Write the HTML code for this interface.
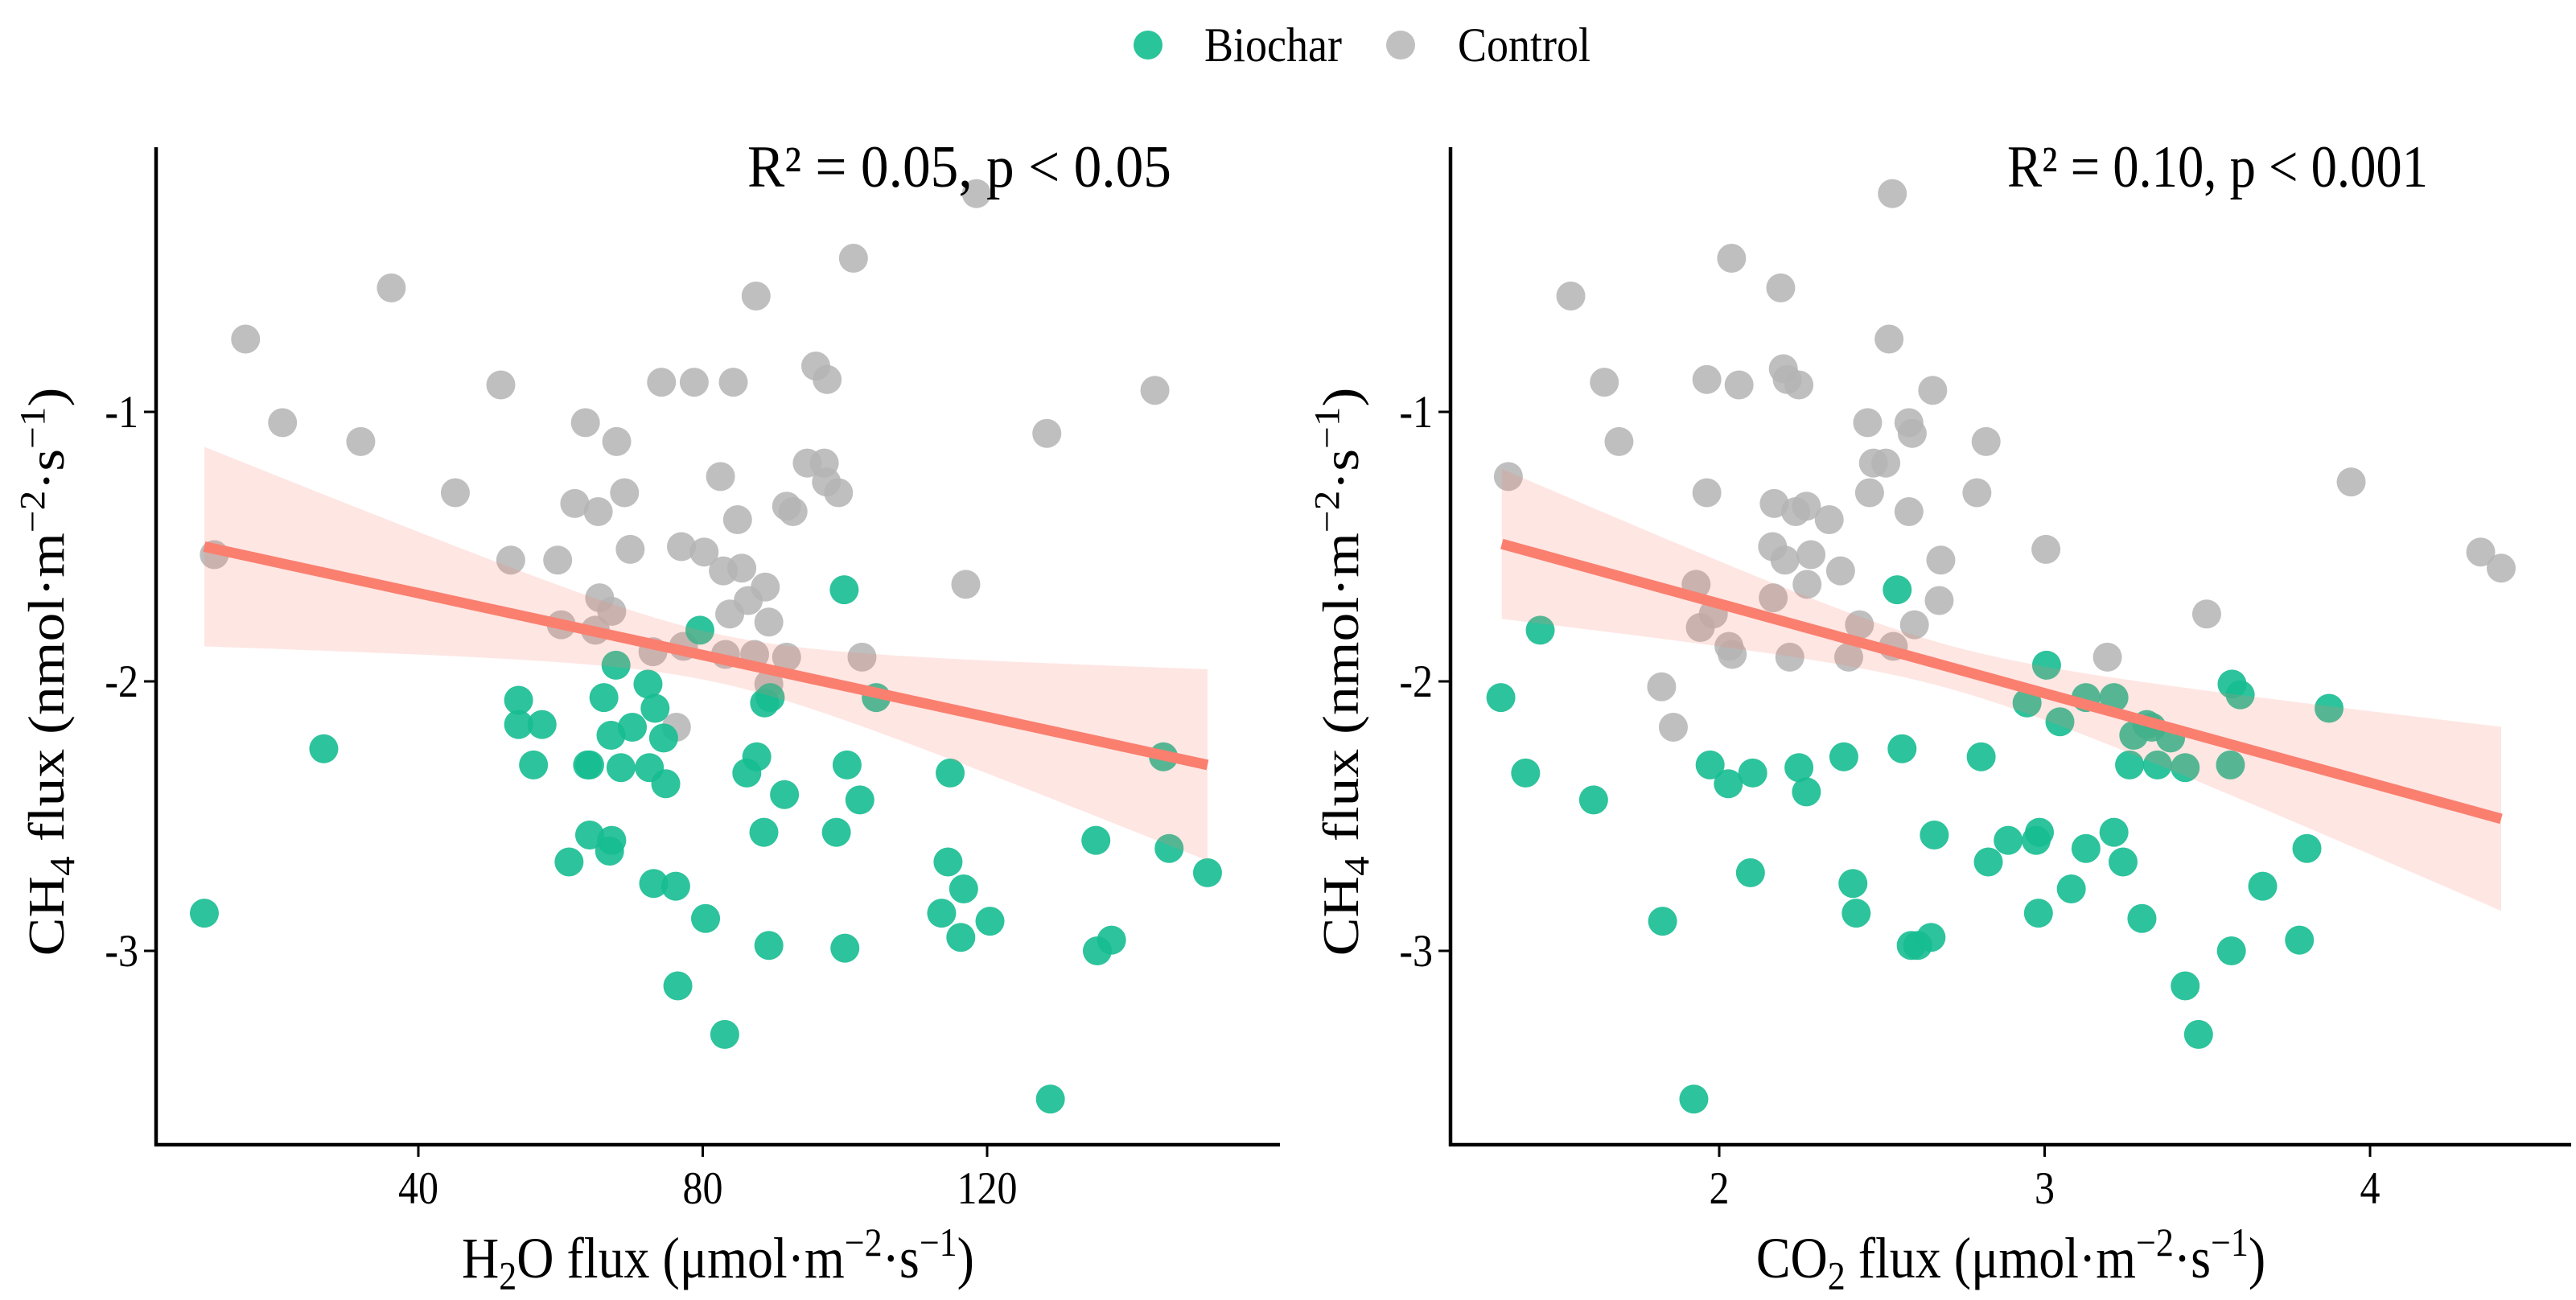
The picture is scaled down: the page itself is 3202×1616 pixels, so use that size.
<!DOCTYPE html>
<html><head><meta charset="utf-8">
<style>
html,body{margin:0;padding:0;background:#fff;}
svg{display:block;font-family:"Liberation Serif",serif;}
</style></head>
<body>
<svg id="chart" width="3202" height="1616" viewBox="0 0 3202 1616" xmlns="http://www.w3.org/2000/svg">
  <g id="legend">
    <g>
      <circle cx="1427" cy="56" r="18" fill="#2ac49a"/>
      <text x="0" y="0" transform="translate(1497,76) scale(1,1.12)" font-size="54">Biochar</text>
    </g>
    <g>
      <circle cx="1741" cy="56" r="18" fill="#c0c0c0"/>
      <text x="0" y="0" transform="translate(1812,76) scale(1,1.12)" font-size="54">Control</text>
    </g>
  </g>
  <g id="p1"></g>
  <g id="p2"></g>
</svg>
<script>
// ---------- Panel 1 data (H2O flux vs CH4 flux) ----------
const h2oControlX = [118.5,101.2,36.2,87.5,15.7,51.6,74.2,78.8,84.3,95.9,97.5,143.6,20.9,63.5,31.9,67.9,128.4,82.5,94.7,97.1,97.4,45.2,69.0,99.1,62.0,65.3,84.9,91.8,92.7,53.0,59.6,69.8,11.3,77.0,80.2,82.9,85.5,88.8,117.0,65.5,67.2,86.4,83.8,89.3,60.1,64.9,77.3,73.0,83.2,87.3,91.8,102.4,89.3,76.3];
const h2oControlY = [-0.19,-0.43,-0.54,-0.57,-0.73,-0.90,-0.89,-0.89,-0.89,-0.83,-0.88,-0.92,-1.04,-1.04,-1.11,-1.11,-1.08,-1.24,-1.19,-1.19,-1.26,-1.30,-1.30,-1.30,-1.34,-1.37,-1.40,-1.35,-1.37,-1.55,-1.55,-1.51,-1.53,-1.50,-1.52,-1.59,-1.58,-1.65,-1.64,-1.69,-1.74,-1.70,-1.75,-1.78,-1.79,-1.81,-1.87,-1.89,-1.90,-1.90,-1.91,-1.91,-2.01,-2.17];
const h2oBiocharX = [99.9,79.6,67.8,72.3,66.1,54.1,88.7,89.5,104.4,73.3,54.1,57.4,67.1,70.1,74.5,26.7,144.8,56.2,63.8,64.1,68.5,72.5,87.6,100.3,86.2,114.8,74.8,91.5,102.1,64.1,67.2,66.9,88.6,98.8,135.3,145.6,61.2,114.5,151.0,73.1,76.2,116.7,9.9,80.4,113.6,120.4,89.3,100.0,116.3,137.5,135.5,76.5,83.1,128.9];
const h2oBiocharY = [-1.66,-1.81,-1.94,-2.01,-2.06,-2.07,-2.08,-2.06,-2.06,-2.10,-2.16,-2.16,-2.20,-2.17,-2.21,-2.25,-2.28,-2.31,-2.31,-2.31,-2.32,-2.32,-2.28,-2.31,-2.34,-2.34,-2.38,-2.42,-2.44,-2.57,-2.59,-2.63,-2.56,-2.56,-2.59,-2.62,-2.67,-2.67,-2.71,-2.75,-2.76,-2.77,-2.86,-2.88,-2.86,-2.89,-2.98,-2.99,-2.95,-2.96,-3.00,-3.13,-3.31,-3.55];
const h2oTicksX = [40,80,120];
const h2oFitRange = [9.9,151.0];
const h2oFitEnds = [-1.50,-2.31];
const h2oBand = [82,0.09,0.0000248]; // centre, min half-width, curvature

// ---------- Panel 2 data (CO2 flux vs CH4 flux) ----------
const co2ControlX = [2.532,2.038,1.544,2.189,2.522,2.197,1.647,1.962,2.061,2.209,2.245,2.656,1.692,2.456,2.583,2.593,2.820,1.352,2.474,2.512,1.962,2.462,2.792,3.942,2.169,2.235,2.268,2.338,2.583,2.164,2.202,2.282,2.373,2.681,3.004,4.340,4.403,1.929,2.270,2.166,2.676,1.982,3.498,2.431,1.942,2.600,2.030,2.040,2.217,2.398,2.535,3.193,1.823,1.859];
const co2ControlY = [-0.19,-0.43,-0.57,-0.54,-0.73,-0.84,-0.89,-0.88,-0.90,-0.88,-0.90,-0.92,-1.11,-1.04,-1.04,-1.08,-1.11,-1.24,-1.19,-1.19,-1.30,-1.30,-1.30,-1.26,-1.34,-1.37,-1.35,-1.40,-1.37,-1.50,-1.55,-1.53,-1.59,-1.55,-1.51,-1.52,-1.58,-1.64,-1.64,-1.69,-1.70,-1.75,-1.75,-1.79,-1.80,-1.79,-1.87,-1.90,-1.91,-1.91,-1.87,-1.91,-2.02,-2.17];
const co2BiocharX = [2.547,1.450,3.006,3.576,1.329,2.946,3.127,3.213,3.601,3.874,3.047,3.314,3.329,3.274,3.387,2.562,2.383,2.805,1.405,1.972,2.103,2.245,2.028,2.268,3.261,3.347,3.432,3.571,1.614,2.661,2.888,2.984,2.974,3.213,3.127,3.806,2.827,3.241,2.096,2.411,3.082,3.670,1.826,2.421,2.981,3.299,2.590,2.610,2.651,3.574,3.783,3.432,3.473,1.922];
const co2BiocharY = [-1.66,-1.81,-1.94,-2.01,-2.06,-2.08,-2.06,-2.06,-2.05,-2.10,-2.15,-2.16,-2.17,-2.20,-2.21,-2.25,-2.28,-2.28,-2.34,-2.31,-2.34,-2.32,-2.38,-2.41,-2.31,-2.31,-2.32,-2.31,-2.44,-2.57,-2.59,-2.56,-2.59,-2.56,-2.62,-2.62,-2.67,-2.67,-2.71,-2.75,-2.77,-2.76,-2.89,-2.86,-2.86,-2.88,-2.98,-2.98,-2.95,-3.00,-2.96,-3.13,-3.31,-3.55];
const co2TicksX = [2,3,4];
const co2FitRange = [1.332,4.403];
const co2FitEnds = [-1.49,-2.51];
const co2Band = [2.7,0.08,0.038];

const yTicks = [-1,-2,-3];

const NS = "http://www.w3.org/2000/svg";
function mk(parent, tag, attrs){
  const e = document.createElementNS(NS, tag);
  for (const k in attrs) e.setAttribute(k, attrs[k]);
  parent.appendChild(e);
  return e;
}

function drawPanel(g, cfg){
  const yScale = v => 512 + (-1 - v) * 335;
  const xScale = v => cfg.x0px + (v - cfg.x0val) * cfg.pxPerUnit;
  const axL = cfg.axisX, axB = 1423, axT = 183, axR = cfg.axisR;

  const gc = mk(g, 'g', {});
  
  
  cfg.cx.forEach((v, i) => {
    const c = mk(gc, 'circle', {cx: xScale(v), cy: yScale(cfg.cy[i]), r: 18, fill: '#b4b4b4', 'fill-opacity': 0.85});
    
    
  });
  const gb = mk(g, 'g', {});
  
  
  cfg.bx.forEach((v, i) => {
    const c = mk(gb, 'circle', {cx: xScale(v), cy: yScale(cfg.by[i]), r: 18, fill: '#16bd91', 'fill-opacity': 0.9});
    
    
  });

  const [xa, xb] = cfg.fitRange, [ya, yb] = cfg.fitEnds;
  const fit = x => ya + (yb - ya) * (x - xa) / (xb - xa);
  const hw = x => Math.sqrt(cfg.band[1]*cfg.band[1] + cfg.band[2]*(x - cfg.band[0])*(x - cfg.band[0]));
  const N = 60; let up = [], lo = [];
  for (let i = 0; i <= N; i++){
    const x = xa + (xb - xa) * i / N;
    up.push(xScale(x).toFixed(1) + ',' + yScale(fit(x) + hw(x)).toFixed(1));
    lo.unshift(xScale(x).toFixed(1) + ',' + yScale(fit(x) - hw(x)).toFixed(1));
  }
  const band = mk(g, 'polygon', {points: up.concat(lo).join(' '), fill: '#fa8072', 'fill-opacity': 0.2});
  
  
  const line = mk(g, 'line', {x1: xScale(xa), y1: yScale(ya), x2: xScale(xb), y2: yScale(yb), stroke: '#fa7f6f', 'stroke-width': 13});
  
  

  const ya_ = mk(g, 'line', {x1: axL, y1: axT, x2: axL, y2: axB + 2, stroke: '#000', 'stroke-width': 4.5});
  
  
  const xa_ = mk(g, 'line', {x1: axL - 2, y1: axB, x2: axR, y2: axB, stroke: '#000', 'stroke-width': 4.5});
  
  

  yTicks.forEach(t => {
    const y = yScale(t);
    const tk = mk(g, 'line', {x1: axL - 15, y1: y, x2: axL, y2: y, stroke: '#000', 'stroke-width': 3});
    
    
    const tl = mk(g, 'text', {x: 0, y: 0, 'font-size': 50, 'text-anchor': 'end', transform: `translate(${axL - 22},${y + 19}) scale(1,1.15)`});
    tl.textContent = String(t);
    
    
  });
  cfg.ticks.forEach(t => {
    const x = xScale(t);
    const tk = mk(g, 'line', {x1: x, y1: axB, x2: x, y2: axB + 15, stroke: '#000', 'stroke-width': 3});
    
    
    const tl = mk(g, 'text', {x: 0, y: 0, 'font-size': 50, 'text-anchor': 'middle', transform: `translate(${x},1496) scale(1,1.15)`});
    tl.textContent = String(t);
    
    
  });

  const xt = mk(g, 'text', {x: 0, y: 0, 'font-size': 64, 'text-anchor': 'middle', transform: `translate(${(axL + axR) / 2},1588) scale(1,1.12)`});
  xt.innerHTML = cfg.xTitle;
  
  
  const yt = mk(g, 'text', {x: 0, y: 0, 'font-size': 64, 'text-anchor': 'middle', transform: `translate(${axL - 115},835) rotate(-90) scale(1.12,1)`});
  yt.innerHTML = 'CH<tspan font-size="44" dy="13">4</tspan><tspan dy="-13"> flux (nmol·m</tspan><tspan font-size="44" dy="-24">−2</tspan><tspan dy="24">·s</tspan><tspan font-size="44" dy="-24">−1</tspan><tspan dy="24">)</tspan>';
  
  
  const st = mk(g, 'text', {x: 0, y: 0, 'font-size': 66, transform: `translate(${cfg.statX},232) scale(1,1.12)`, textLength: cfg.statW, lengthAdjust: 'spacingAndGlyphs'});
  st.textContent = cfg.stat;
  
  
}

drawPanel(document.getElementById('p1'), {
  axisX: 194, axisR: 1591, x0val: 40, x0px: 520, pxPerUnit: 8.8375,
  cx: h2oControlX, cy: h2oControlY, bx: h2oBiocharX, by: h2oBiocharY,
  ticks: h2oTicksX, fitRange: h2oFitRange, fitEnds: h2oFitEnds, band: h2oBand,
  xTitle: 'H<tspan font-size="44" dy="13">2</tspan><tspan dy="-13">O flux (μmol·m</tspan><tspan font-size="44" dy="-24">−2</tspan><tspan dy="24">·s</tspan><tspan font-size="44" dy="-24">−1</tspan><tspan dy="24">)</tspan>',
  stat: 'R² = 0.05, p < 0.05', statX: 929, statW: 527
});
drawPanel(document.getElementById('p2'), {
  axisX: 1803, axisR: 3196, x0val: 2, x0px: 2137, pxPerUnit: 404.5,
  cx: co2ControlX, cy: co2ControlY, bx: co2BiocharX, by: co2BiocharY,
  ticks: co2TicksX, fitRange: co2FitRange, fitEnds: co2FitEnds, band: co2Band,
  xTitle: 'CO<tspan font-size="44" dy="13">2</tspan><tspan dy="-13"> flux (μmol·m</tspan><tspan font-size="44" dy="-24">−2</tspan><tspan dy="24">·s</tspan><tspan font-size="44" dy="-24">−1</tspan><tspan dy="24">)</tspan>',
  stat: 'R² = 0.10, p < 0.001', statX: 2495, statW: 523
});
</script>
</body></html>
